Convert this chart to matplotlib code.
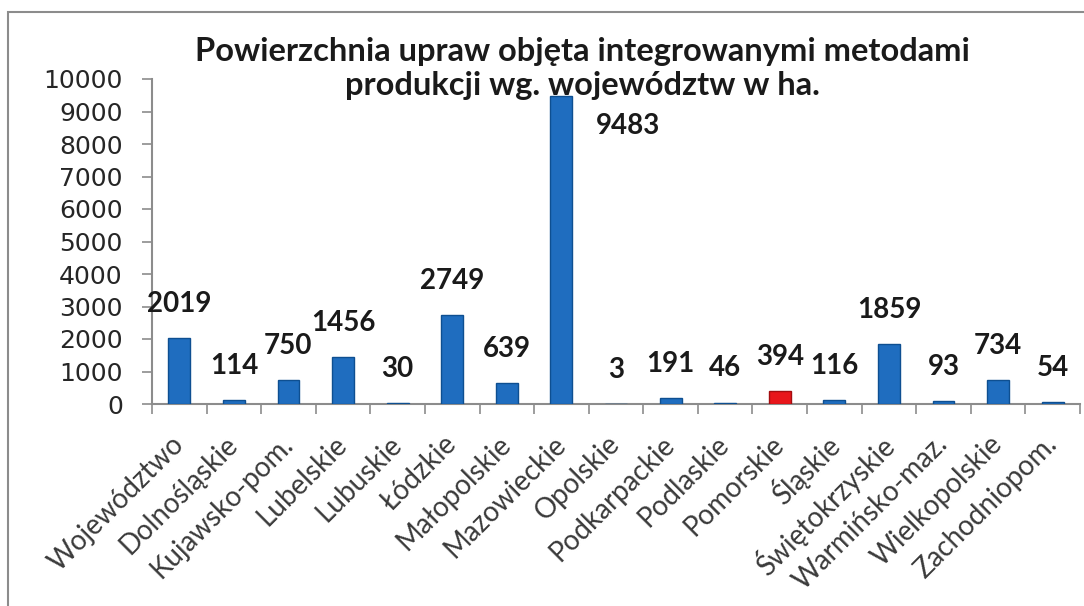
import numpy as np
import matplotlib
matplotlib.use("Agg")
import matplotlib.pyplot as plt
from matplotlib.patches import Rectangle

# Data
regions = ['Województwo', 'Dolnośląskie', 'Kujawsko-pom.', 'Lubelskie', 'Lubuskie',
           'Łódzkie', 'Małopolskie', 'Mazowieckie', 'Opolskie', 'Podkarpackie',
           'Podlaskie', 'Pomorskie', 'Śląskie', 'Świętokrzyskie', 'Warmińsko-maz.',
           'Wielkopolskie', 'Zachodniopom.']
area_ha = [2019, 114, 750, 1456, 30, 2749, 639, 9483, 3, 191, 46, 394, 116, 1859, 93, 734, 54]
highlight = 'Pomorskie'
y_ticks = list(range(0, 10001, 1000))

title = 'Powierzchnia upraw objęta integrowanymi metodami\nprodukcji wg. województw w ha.'

blue, blue_edge = '#1f6dbf', '#0e4f91'
red, red_edge = '#e8161b', '#a30d10'

fig = plt.figure(figsize=(10.84, 6.06), dpi=100)
ax = fig.add_axes([152 / 1084, 1 - 404 / 606, 928 / 1084, 325 / 606])

x = np.arange(len(regions))
colors = [red if r == highlight else blue for r in regions]
edges = [red_edge if r == highlight else blue_edge for r in regions]
ax.bar(x, area_ha, width=0.4, color=colors, edgecolor=edges, linewidth=1, zorder=3)

# value labels above bars (the biggest one sits beside the bar, under the title)
for xi, v in zip(x, area_ha):
    off = (48, -22) if v == max(area_ha) else (0, 24.5)
    ax.annotate(str(v), (xi, v), xytext=off, textcoords='offset points',
                ha='center', va='center', fontsize=20, fontweight='bold',
                family='Lato', color='#1a1a1a', zorder=4)

ax.set_xlim(-0.5, len(regions) - 0.5)
ax.set_ylim(0, 10000)
ax.set_yticks(y_ticks)
ax.set_yticklabels([str(t) for t in y_ticks], fontsize=18, family='DejaVu Sans', color='#262626')
ax.tick_params(axis='y', length=7, width=1.2, color='#8c8c8c', pad=14)

ax.set_xticks(x)
ax.set_xticklabels(regions, rotation=45, ha='right', va='center', rotation_mode='anchor',
                   fontsize=20, family='Lato', color='#3a3a3a')
ax.set_xticks(np.arange(len(regions) + 1) - 0.5, minor=True)
ax.tick_params(axis='x', which='major', length=0, pad=26)
ax.tick_params(axis='x', which='minor', length=7, width=1.2, color='#8c8c8c')

for s in ['top', 'right']:
    ax.spines[s].set_visible(False)
for s in ['left', 'bottom']:
    ax.spines[s].set_color('#8c8c8c')
    ax.spines[s].set_linewidth(1.5)

fig.text(582 / 1084, 1 - 95 / 606, title, ha='center', va='baseline',
         fontsize=23.5, fontweight='bold', family='Lato', color='#1a1a1a', linespacing=1.2)

# outer chart frame
fig.patches.append(Rectangle((8 / 1084, -0.1), 1.1, 1.1 - 12 / 606, transform=fig.transFigure,
                             fill=False, edgecolor='#8c8c8c', linewidth=1.5, zorder=0))

fig.savefig('out.png', dpi=100)
